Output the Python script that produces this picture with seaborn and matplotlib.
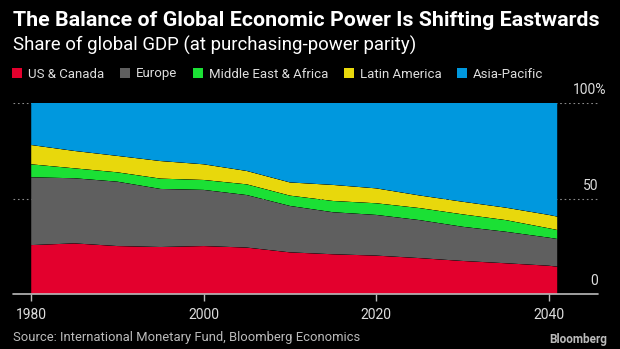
import matplotlib
matplotlib.use("Agg")
import matplotlib.pyplot as plt
from matplotlib.patches import Patch
import seaborn as sns
import seaborn.objects as so
import pandas as pd

years = [1980, 1985, 1990, 1995, 2000, 2005, 2010, 2015, 2020, 2025, 2030, 2035, 2040, 2041]
us_canada = [25.6, 26.5, 25.1, 24.6, 25.1, 24.3, 21.8, 20.8, 20.1, 18.8, 17.3, 16.1, 14.8, 14.3]
europe = [35.5, 34.1, 33.7, 30.4, 29.4, 27.5, 24.3, 22.0, 21.3, 19.9, 17.9, 16.5, 14.7, 14.5]
mid_east_africa = [6.8, 5.2, 4.9, 5.4, 5.2, 5.6, 5.4, 5.9, 6.1, 6.3, 6.5, 6.1, 4.9, 4.7]
latin_america = [10.1, 9.1, 8.6, 9.2, 8.2, 7.0, 6.9, 8.4, 7.8, 6.6, 6.6, 6.5, 7.0, 7.0]
regions = ["US & Canada", "Europe", "Middle East & Africa", "Latin America", "Asia-Pacific"]
colors = ["#E3002D", "#5F5F5F", "#1BE035", "#E8D80C", "#0098DE"]
x_ticks = [1980, 2000, 2020, 2040]
y_ticks = [0, 50, 100]
y_tick_labels = ["0", "50", "100%"]

asia_pacific = [round(100 - a - b - c - d, 1) for a, b, c, d in
                zip(us_canada, europe, mid_east_africa, latin_america)]

rows = []
for name, vals in zip(regions, [us_canada, europe, mid_east_africa, latin_america, asia_pacific]):
    for y, v in zip(years, vals):
        rows.append({"year": y, "share": v, "region": name})
df = pd.DataFrame(rows)

sns.set_theme(style="dark")
plt.rcParams["font.family"] = ["Roboto", "DejaVu Sans"]

BG = "black"
W, H = 620, 349
fig = plt.figure(figsize=(6.2, 3.49), dpi=100, facecolor=BG)
left, right, top, bottom = 13, 598, 103, 294
ax = fig.add_axes([left / W, 1 - bottom / H, (right - left) / W, (bottom - top) / H])
ax.set_facecolor(BG)

(
    so.Plot(df, x="year", y="share", color="region")
    .add(so.Area(alpha=1, edgewidth=0), so.Stack(), legend=False)
    .scale(color=dict(zip(regions, colors)))
    .on(ax)
    .plot()
)

ax.set_facecolor(BG)
ax.set_xlim(1977.9, 2045.7)
ax.set_ylim(0, 100)
ax.set_xlabel("")
ax.set_ylabel("")
for s in ax.spines.values():
    s.set_visible(False)
ax.axhline(0, color="#BBBBBB", lw=1.2, zorder=5, clip_on=False)
for yv in [50, 100]:
    ax.axhline(yv, color="#8a8a8a", lw=0.8, ls=(0, (1.5, 2.5)), zorder=0)
ax.grid(False)
ax.set_yticks([])
ax.set_xticks(x_ticks)
ax.set_xticklabels([str(t) for t in x_ticks])
ax.tick_params(axis="x", colors="#BBBBBB", length=5, width=1, pad=5,
               labelsize=10, labelcolor="#DDDDDD", direction="out", bottom=True)
for yv, lab in zip(y_ticks, y_tick_labels):
    xpos = 1.0 if lab != "100%" else 1.0 + 8 / (right - left)
    ax.text(xpos, yv + 6.8, lab, transform=ax.get_yaxis_transform(), ha="right", va="center",
            fontsize=10, color="#DDDDDD")

fig.text(13 / W, 1 - 21 / H, "The Balance of Global Economic Power Is Shifting Eastwards",
         fontsize=15.4, fontweight="bold", color="white", ha="left", va="center")
fig.text(13 / W, 1 - 45 / H, "Share of global GDP (at purchasing-power parity)",
         fontsize=13.4, color="white", ha="left", va="center")

handles = [Patch(facecolor=c, edgecolor="none", label=r) for r, c in zip(regions, colors)]
leg = fig.legend(handles=handles, loc="center left", bbox_to_anchor=(12 / W, 1 - 74 / H),
                 ncol=5, frameon=False, fontsize=9.5, handlelength=0.75, handleheight=0.75,
                 handletextpad=0.45, columnspacing=1.2, borderaxespad=0, borderpad=0)
for t in leg.get_texts():
    t.set_color("#DDDDDD")

fig.text(13 / W, 1 - 338 / H, "Source: International Monetary Fund, Bloomberg Economics",
         fontsize=9.4, color="#BBBBBB", ha="left", va="center")
fig.text(607 / W, 1 - 340 / H, "Bloomberg", fontsize=8.5, fontweight="bold",
         color="#BBBBBB", ha="right", va="center")

fig.savefig("out.png", dpi=100, facecolor=BG)
